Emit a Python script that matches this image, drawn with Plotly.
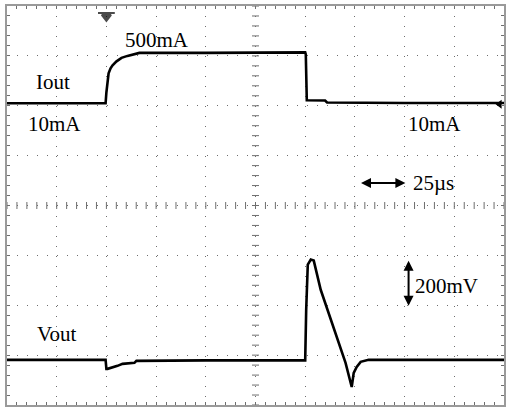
import numpy as np
import plotly.graph_objects as go

# ---- data (time in µs, 25 µs/div) ----
iout_t = [0, 49.6, 50.0, 50.6, 51.1, 52.1, 53.1, 55.1, 57.6, 60.6, 63.1, 66.6, 100, 130,
          150.0, 150.3, 150.8, 160.0, 161.0, 200, 250]
iout_mA = [10, 10, 120, 230, 310, 360, 390, 430, 465, 485, 500, 515, 515, 520,
           520, 500, 40, 38, 18, 12, 12]

vout_t = [0, 49.6, 50.0, 50.6, 55.6, 58.1, 64.1, 65.1, 100, 150.0, 150.5, 151.3, 152.8,
          154.3, 157.8, 163.3, 170.3, 173.4, 174.4, 175.9, 177.9, 181.9, 250]
vout_mV = [0, 0, -36, -36, -24, -16, -12, -4, -2, -2, 201, 382, 402,
           398, 281, 149, -12, -109, -52, -28, -8, 0, 0]

# scope settings
time_per_div = 25      # µs
iout_per_div = 500     # mA
vout_per_div = 200     # mV
n_xdiv, n_ydiv = 10, 8
iout_ref_div = 6.05    # division where 10 mA sits
vout_ref_div = 0.905   # division of 0 mV

labels = ["500mA", "Iout", "10mA", "10mA", "Vout"]
label_t = [75.2, 23.0, 24.0, 215.0, 25.0]
label_div = [7.32, 6.48, 5.63, 5.63, 1.42]

FONT = "Liberation Serif"
GRID = "#6e6e6e"

fig = go.Figure()

# graticule centre-line ticks
tick_x = np.arange(0, n_xdiv * time_per_div + 0.01, time_per_div / 5)
tick_y = np.arange(0, n_ydiv + 0.01, 0.2)
fig.add_trace(go.Scatter(x=tick_x, y=[n_ydiv / 2] * len(tick_x), mode="markers",
                         marker=dict(symbol="line-ns", size=5, line=dict(width=1, color=GRID)),
                         hoverinfo="skip", showlegend=False, yaxis="y"))
fig.add_trace(go.Scatter(x=[n_xdiv * time_per_div / 2] * len(tick_y), y=tick_y, mode="markers",
                         marker=dict(symbol="line-ew", size=5, line=dict(width=1, color=GRID)),
                         hoverinfo="skip", showlegend=False, yaxis="y"))

# traces
fig.add_trace(go.Scatter(x=iout_t, y=iout_mA, mode="lines", line=dict(color="black", width=2.6),
                         showlegend=False, yaxis="y2"))
fig.add_trace(go.Scatter(x=vout_t, y=vout_mV, mode="lines", line=dict(color="black", width=2.6),
                         showlegend=False, yaxis="y3"))

# trigger marker (top) and ground-level marker (right)
fig.add_trace(go.Scatter(x=[50, 50], y=[7.86, 7.78], mode="markers",
                         marker=dict(symbol=["line-ew", "triangle-down"], size=[12, 8], color="black",
                                     line=dict(width=2, color="black")),
                         showlegend=False, yaxis="y"))
fig.add_trace(go.Scatter(x=[247.8], y=[6.03], mode="markers",
                         marker=dict(symbol="triangle-left", size=8, color="black"),
                         showlegend=False, yaxis="y"))

for txt, tx, ty in zip(labels, label_t, label_div):
    fig.add_annotation(x=tx, y=ty, xref="x", yref="y", text=txt, showarrow=False,
                       font=dict(family=FONT, size=21, color="black"))

# time-scale arrow and text
fig.add_annotation(x=200.4, y=4.45, ax=177.3, ay=4.45, xref="x", yref="y", axref="x", ayref="y",
                   text="", showarrow=True, arrowhead=2, arrowside="end+start",
                   arrowsize=1, arrowwidth=2, arrowcolor="black")
fig.add_annotation(x=203, y=4.45, xref="x", yref="y", text="25µs", showarrow=False,
                   xanchor="left", font=dict(family=FONT, size=21, color="black"))
# voltage-scale arrow and text
fig.add_annotation(x=202, y=2.89, ax=202, ay=1.96, xref="x", yref="y", axref="x", ayref="y",
                   text="", showarrow=True, arrowhead=2, arrowside="end+start",
                   arrowsize=1, arrowwidth=2, arrowcolor="black")
fig.add_annotation(x=204, y=2.39, xref="x", yref="y", text="200mV", showarrow=False,
                   xanchor="left", font=dict(family=FONT, size=21, color="black"))

axis_common = dict(showticklabels=False, zeroline=False, showline=True, linecolor="#9a9a9a",
                   linewidth=2, mirror="ticks", ticks="inside", ticklen=3, tickcolor=GRID,
                   showgrid=True, gridcolor=GRID, gridwidth=1, griddash="1px,9px")

fig.update_layout(
    width=508, height=407,
    margin=dict(l=7, r=2, t=6, b=2),
    paper_bgcolor="white", plot_bgcolor="white",
    xaxis=dict(range=[0, n_xdiv * time_per_div], dtick=time_per_div, tick0=0,
               minor=dict(ticks="inside", ticklen=3, tickcolor=GRID, showgrid=False,
                          dtick=time_per_div / 5),
               **axis_common),
    yaxis=dict(range=[0, n_ydiv], dtick=1, tick0=0,
               minor=dict(ticks="inside", ticklen=3, tickcolor=GRID, showgrid=False, dtick=0.2),
               **axis_common),
    yaxis2=dict(range=[10 - iout_ref_div * iout_per_div, 10 + (n_ydiv - iout_ref_div) * iout_per_div],
                overlaying="y", visible=False),
    yaxis3=dict(range=[-vout_ref_div * vout_per_div, (n_ydiv - vout_ref_div) * vout_per_div],
                overlaying="y", visible=False),
)

fig.write_html("out.html", config={"displayModeBar": False},
               post_script="document.body.style.margin='0';")
